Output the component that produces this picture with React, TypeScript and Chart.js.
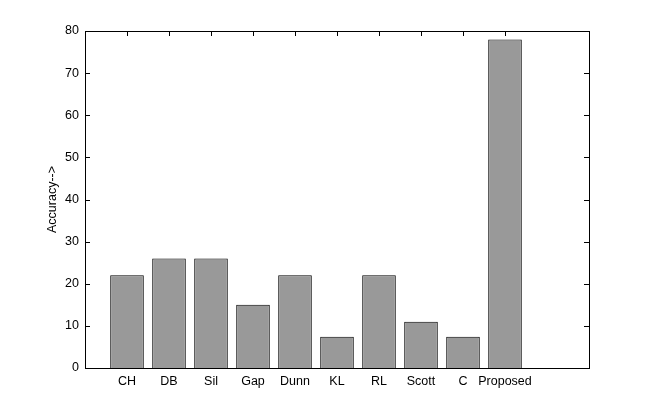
import { useEffect, useRef } from 'react';
import { Chart, registerables } from 'chart.js';
Chart.register(...registerables);

const categories = ['CH', 'DB', 'Sil', 'Gap', 'Dunn', 'KL', 'RL', 'Scott', 'C', 'Proposed'];
const accuracy = [22, 26, 26, 15, 22, 7.4, 22, 11, 7.4, 78];
const yTicks = [0, 10, 20, 30, 40, 50, 60, 70, 80];
const yLabel = 'Accuracy-->';

const FONT = '"Liberation Sans", Arial, Helvetica, sans-serif';
const FONT_SIZE = 12.5;

const boxPlugin = {
  id: 'matlabBox',
  beforeDatasetsDraw(chart: any) {
    const { ctx, chartArea, scales } = chart;
    const { left, right, top, bottom } = chartArea;
    const L = 5;
    ctx.save();
    ctx.strokeStyle = '#000';
    ctx.lineWidth = 1;
    ctx.beginPath();
    yTicks.forEach((v) => {
      const py = Math.round(scales.y.getPixelForValue(v)) + 0.5;
      ctx.moveTo(left, py);
      ctx.lineTo(left + L, py);
      ctx.moveTo(right, py);
      ctx.lineTo(right - L, py);
    });
    categories.forEach((_, i) => {
      const px = Math.round(scales.x.getPixelForValue(i + 1)) + 0.5;
      ctx.moveTo(px, top);
      ctx.lineTo(px, top + L);
      ctx.moveTo(px, bottom);
      ctx.lineTo(px, bottom - L);
    });
    ctx.stroke();
    ctx.restore();
  },
  afterDatasetsDraw(chart: any) {
    const { ctx, chartArea } = chart;
    const { left, right, top, bottom } = chartArea;
    ctx.save();
    ctx.strokeStyle = '#000';
    ctx.lineWidth = 1;
    ctx.strokeRect(left + 0.5, top + 0.5, right - left, bottom - top);
    ctx.restore();
  },
};

export default function App() {
  const ref = useRef<HTMLCanvasElement>(null);
  useEffect(() => {
    document.body.style.margin = '0';
    const labels = ['', ...categories, '', ''];
    const data = [null, ...accuracy, null, null];
    const chart = new Chart(ref.current as HTMLCanvasElement, {
      type: 'bar',
      data: {
        labels,
        datasets: [
          {
            data,
            backgroundColor: '#999999',
            borderColor: '#000000',
            borderWidth: 1,
            barPercentage: 0.8,
            categoryPercentage: 1,
          },
        ],
      },
      options: {
        animation: false,
        responsive: false,
        devicePixelRatio: 1,
        layout: { padding: { top: 31, right: 62, bottom: 0, left: 0 } },
        plugins: { legend: { display: false }, tooltip: { enabled: false } },
        scales: {
          x: {
            offset: false,
            grid: { display: false, drawTicks: false },
            border: { display: false },
            ticks: {
              autoSkip: false,
              maxRotation: 0,
              minRotation: 0,
              padding: 6,
              color: '#000',
              font: { family: FONT, size: FONT_SIZE },
            },
            afterFit: (s: any) => {
              s.height = 45;
            },
          },
          y: {
            min: 0,
            max: 80,
            grid: { display: false, drawTicks: false },
            border: { display: false },
            ticks: {
              stepSize: 10,
              padding: 6,
              color: '#000',
              font: { family: FONT, size: FONT_SIZE },
            },
            title: {
              display: true,
              text: yLabel,
              color: '#000',
              font: { family: FONT, size: FONT_SIZE },
              padding: { top: 45, bottom: 0 },
            },
            afterFit: (s: any) => {
              s.width = 85;
            },
          },
        },
      },
      plugins: [boxPlugin],
    });
    return () => chart.destroy();
  }, []);
  return (
    <div style={{ position: 'absolute', left: 0, top: 0, width: 651, height: 413, background: '#fff' }}>
      <canvas ref={ref} width={651} height={413} />
    </div>
  );
}
